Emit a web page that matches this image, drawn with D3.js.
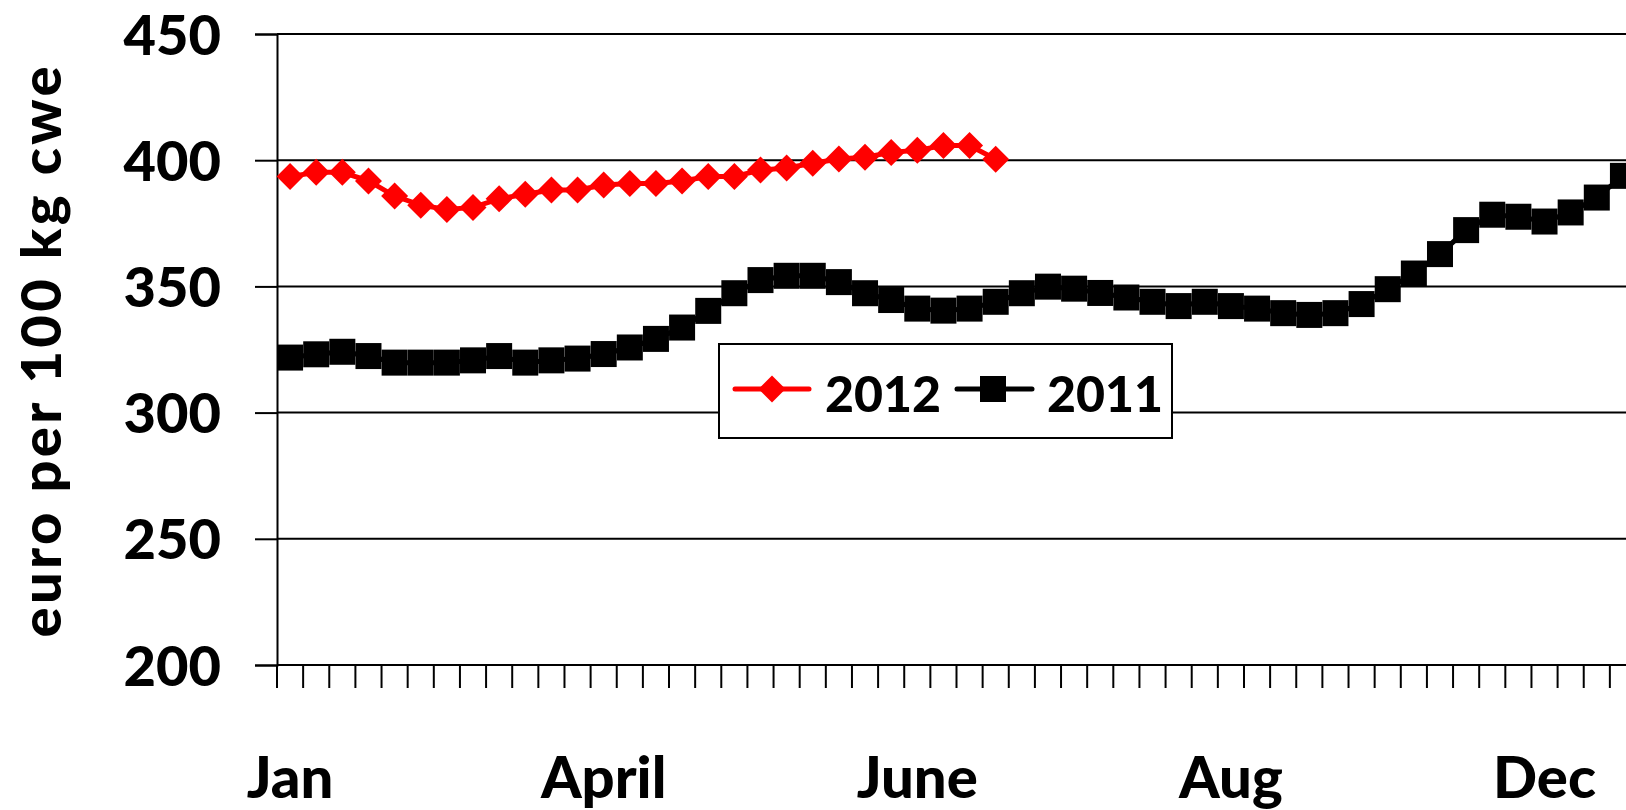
<!DOCTYPE html>
<html>
<head>
<meta charset="utf-8">
<script src="https://cdn.jsdelivr.net/npm/d3@7/dist/d3.min.js"></script>
<style>
  html, body { margin: 0; padding: 0; background: #fff; }
  svg { display: block; }
  text { font-family: Lato, "Open Sans", sans-serif; font-weight: 900; fill: #000; }
</style>
</head>
<body>
<svg id="chart" width="1626" height="810"></svg>
<script>
// ---- data ----
const weeks = d3.range(52);               // weekly categories
const monthLabels = ["Jan", "April", "June", "Aug", "Dec"];
const monthLabelWeeks = [0, 12, 24, 36, 48];
const yTicks = [200, 250, 300, 350, 400, 450];
const seriesNames = ["2012", "2011"];
const values2012 = [393.5, 395.2, 395.2, 391.8, 385.8, 382.2, 380.5, 381.3, 384.7, 386.5,
  388.2, 388.2, 390.2, 390.8, 390.8, 391.8, 393.5, 393.5, 396.1, 396.9,
  398.8, 400.5, 401.2, 403.1, 403.9, 405.8, 405.8, 400.4];
const values2011 = [321.8, 323.1, 324.1, 322.4, 319.8, 319.8, 319.8, 320.7, 322.4, 319.8,
  320.7, 321.4, 323.2, 325.8, 329.2, 333.7, 340.3, 347.3, 352.5, 354.2,
  354.2, 351.7, 347.3, 344.6, 341.2, 340.4, 341.2, 343.9, 347.3, 349.9,
  349.1, 347.4, 345.6, 343.9, 342.2, 343.9, 342.2, 341.2, 339.4, 338.7,
  339.4, 343.0, 348.9, 355.1, 362.8, 372.3, 378.4, 377.6, 375.7, 379.3,
  385.2, 393.8];
const yTitle = "euro per 100 kg cwe";

// ---- layout ----
const svg = d3.select("#chart");
const mLeft = 277, mRight = 1636, mTop = 34, mBottom = 665;
const x = d3.scaleBand().domain(weeks).range([mLeft, mRight]).padding(0);
const y = d3.scaleLinear().domain([200, 450]).range([mBottom, mTop]);
const cx = i => x(i) + x.bandwidth() / 2;

// gridlines
svg.append("g").selectAll("line").data(yTicks.filter(v => v > 200)).join("line")
  .attr("x1", mLeft).attr("x2", mRight)
  .attr("y1", d => y(d)).attr("y2", d => y(d))
  .attr("stroke", "#000").attr("stroke-width", 2);

// y axis
const yAxis = svg.append("g").attr("transform", `translate(${mLeft},0)`)
  .call(d3.axisLeft(y).tickValues(yTicks).tickSize(22).tickPadding(34).tickFormat(d3.format("d")));
yAxis.select(".domain").attr("stroke", "#000").attr("stroke-width", 2);
yAxis.selectAll(".tick line").attr("stroke", "#000").attr("stroke-width", 2);
yAxis.selectAll(".tick text").attr("font-size", 56).attr("dy", "0.36em")
  .style("font-family", "Lato, sans-serif").style("font-weight", 900);

// x axis: line + ticks at category boundaries
svg.append("line").attr("x1", mLeft).attr("x2", mRight).attr("y1", mBottom).attr("y2", mBottom)
  .attr("stroke", "#000").attr("stroke-width", 2);
const boundaries = d3.range(53);
svg.append("g").selectAll("line").data(boundaries).join("line")
  .attr("x1", k => mLeft + k * x.bandwidth()).attr("x2", k => mLeft + k * x.bandwidth())
  .attr("y1", mBottom).attr("y2", mBottom + 23)
  .attr("stroke", "#000").attr("stroke-width", 2);

// month labels
svg.append("g").selectAll("text").data(monthLabels).join("text")
  .attr("x", (d, i) => cx(monthLabelWeeks[i]))
  .attr("y", 798)
  .attr("text-anchor", "middle")
  .attr("font-size", 58)
  .text(d => d);

// y title
svg.append("text")
  .attr("transform", "translate(61,352) rotate(-90)")
  .attr("text-anchor", "middle")
  .attr("font-size", 56)
  .attr("textLength", 571)
  .attr("lengthAdjust", "spacing")
  .text(yTitle);

// series
const line = d3.line().x((d, i) => cx(i)).y(d => y(d));
const diamond = (s) => `M0,${-s}L${s},0L0,${s}L${-s},0Z`;

// 2011 black
svg.append("path").datum(values2011).attr("d", line)
  .attr("fill", "none").attr("stroke", "#000").attr("stroke-width", 5);
svg.append("g").selectAll("rect").data(values2011).join("rect")
  .attr("x", (d, i) => cx(i) - 13).attr("y", d => y(d) - 13)
  .attr("width", 26).attr("height", 26).attr("fill", "#000");

// 2012 red
svg.append("path").datum(values2012).attr("d", line)
  .attr("fill", "none").attr("stroke", "#ff0000").attr("stroke-width", 5);
svg.append("g").selectAll("path").data(values2012).join("path")
  .attr("transform", (d, i) => `translate(${cx(i)},${y(d)})`)
  .attr("d", diamond(13.5)).attr("fill", "#ff0000");

// legend
const lg = svg.append("g");
lg.append("rect").attr("x", 719).attr("y", 344).attr("width", 453).attr("height", 94)
  .attr("fill", "#fff").attr("stroke", "#000").attr("stroke-width", 2);
// 2012 entry
lg.append("line").attr("x1", 735).attr("x2", 809).attr("y1", 389).attr("y2", 389)
  .attr("stroke", "#ff0000").attr("stroke-width", 5).attr("stroke-linecap", "round");
lg.append("path").attr("transform", "translate(772,389)").attr("d", diamond(13.5)).attr("fill", "#ff0000");
lg.append("text").attr("x", 825).attr("y", 412).attr("font-size", 50).text(seriesNames[0]);
// 2011 entry
lg.append("line").attr("x1", 957).attr("x2", 1032).attr("y1", 389).attr("y2", 389)
  .attr("stroke", "#000").attr("stroke-width", 5).attr("stroke-linecap", "round");
lg.append("rect").attr("x", 980).attr("y", 376).attr("width", 26).attr("height", 26).attr("fill", "#000");
lg.append("text").attr("x", 1047).attr("y", 412).attr("font-size", 50).text(seriesNames[1]);
</script>
</body>
</html>
